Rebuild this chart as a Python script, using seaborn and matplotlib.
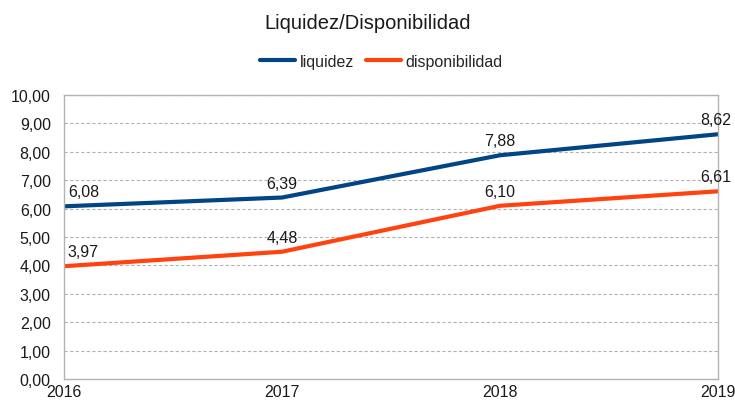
import seaborn as sns
import matplotlib.pyplot as plt
import pandas as pd

years = [2016, 2017, 2018, 2019]
liquidez = [6.08, 6.39, 7.88, 8.62]
disponibilidad = [3.97, 4.48, 6.10, 6.61]
y_ticks = [0, 1, 2, 3, 4, 5, 6, 7, 8, 9, 10]

df = pd.DataFrame({'year': years * 2,
                   'valor': liquidez + disponibilidad,
                   'serie': ['liquidez'] * 4 + ['disponibilidad'] * 4})

sns.set_style('white')
plt.rcParams['font.family'] = ['Liberation Sans', 'DejaVu Sans']

fig = plt.figure(figsize=(7.35, 4.02), dpi=100)
ax = fig.add_axes([0.087, 0.055, 0.890, 0.706])

colors = {'liquidez': '#004586', 'disponibilidad': '#ff420e'}
sns.lineplot(data=df, x='year', y='valor', hue='serie', palette=colors,
             linewidth=3.0, ax=ax, legend=True)

# data labels
for serie, vals in [('liquidez', liquidez), ('disponibilidad', disponibilidad)]:
    for i, (x, v) in enumerate(zip(years, vals)):
        dx = 14 if i == 0 else (-2 if i == len(years) - 1 else 0)
        ax.annotate(f'{v:.2f}'.replace('.', ','), (x, v), xytext=(dx, 5),
                    textcoords='offset points', ha='center', va='bottom',
                    fontsize=11.5, color='#1a1a1a')

ax.set_xlim(2016, 2019)
ax.set_ylim(0, 10)
ax.set_xticks(years)
ax.set_xticklabels([str(y) for y in years])
ax.set_yticks(y_ticks)
ax.set_yticklabels([f'{t:.2f}'.replace('.', ',') for t in y_ticks])
ax.tick_params(axis='both', labelsize=11.5, colors='#b3b3b3', labelcolor='#1a1a1a',
               length=6, width=1, direction='out')
ax.tick_params(axis='x', length=0, pad=4)
ax.yaxis.grid(True, linestyle=(0, (3, 2)), color='#b3b3b3', linewidth=0.8)
for s in ax.spines.values():
    s.set_color('#b3b3b3')
    s.set_linewidth(1)
ax.set_xlabel('')
ax.set_ylabel('')

handles, labels = ax.get_legend_handles_labels()
ax.legend(handles, labels, loc='center', bbox_to_anchor=(0.519, 0.845),
          bbox_transform=fig.transFigure, ncol=2, frameon=False,
          fontsize=11.5, handlelength=2.2, columnspacing=0.7, handletextpad=0.3)

fig.suptitle('Liquidez/Disponibilidad', y=0.965, fontsize=14.5, color='#1a1a1a')

fig.savefig('out.png', dpi=100)
